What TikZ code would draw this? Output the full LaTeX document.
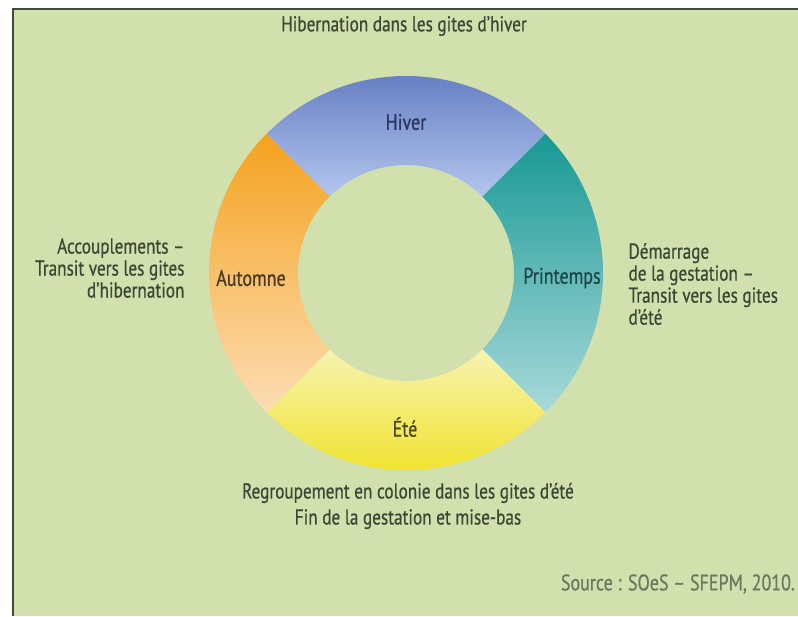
\documentclass[tikz,border=0pt]{standalone}
\usepackage{fontspec}
\setmainfont{PT Sans}[FakeStretch=0.8,FakeBold=0.6]
\usetikzlibrary{positioning}
\definecolor{bggreen}{HTML}{D2E0AE}
\definecolor{framegray}{HTML}{3F4A3A}
\definecolor{txtgray}{HTML}{3C4634}
\definecolor{srcgray}{HTML}{6B7860}
\definecolor{hivT}{HTML}{5B75BE}
\definecolor{hivB}{HTML}{B4C6EE}
\definecolor{priT}{HTML}{179894}
\definecolor{priB}{HTML}{A9D9DA}
\definecolor{eteT}{HTML}{F7F3B0}
\definecolor{eteB}{HTML}{F0E11C}
\definecolor{autT}{HTML}{F4A21E}
\definecolor{autB}{HTML}{FDDDB5}
\definecolor{hivL}{HTML}{2A3560}
\definecolor{autL}{HTML}{4A3820}
\definecolor{priL}{HTML}{1D4646}
\definecolor{eteL}{HTML}{4A4614}
\begin{document}
\begin{tikzpicture}[x=1pt,y=1pt,
  txt/.style={text=txtgray,font=\fontsize{21.5}{22}\selectfont},
  seaslab/.style={font=\fontsize{22.5}{22}\selectfont}]
  \useasboundingbox (0,0) rectangle (798,616);
  \fill[bggreen] (13,0) rectangle (798,607);
  \draw[framegray,line width=2.5pt] (13,0) -- (13,607) -- (798,607);
  \coordinate (c) at (406,343);
  % ring, one quarter per season
  \foreach \a/\tc/\bc in {45/hivT/hivB, -45/priT/priB, -135/eteT/eteB, 135/autT/autB}{
    \shade[shift={(c)},top color=\tc,bottom color=\bc] (\a:197) arc[start angle=\a, delta angle=90, radius=197]
      -- ({\a+90}:108) arc[start angle=\a+90, delta angle=-90, radius=108] -- cycle;
  }
  \node[seaslab,text=hivL] (hiver) at (406,494) {Hiver};
  \node[seaslab,text=autL] (automne) at (251,338) {Automne};
  \node[seaslab,text=priL] (printemps) at (562,338) {Printemps};
  \node[seaslab,text=eteL] (ete) at (405,189) {Été};
  \node[txt] (hivtxt) at (404,590) {Hibernation dans les gites d'hiver};
  \node[txt,align=right,anchor=east] (auttxt) at (188,348) {Accouplements --\\Transit vers les gites\\d'hibernation};
  \node[txt,align=left,anchor=west] (pritxt) at (625,332) {Démarrage\\de la gestation --\\Transit vers les gites\\d'été};
  \node[txt,align=center] (etetxt) at (408,110) {Regroupement en colonie dans les gites d'été\\[4pt]Fin de la gestation et mise-bas};
  \node[txt,text=srcgray,font=\fontsize{22.5}{24}\selectfont,anchor=east,inner sep=1pt] (source) at (796,32) {Source : SOeS -- SFEPM, 2010.};
\end{tikzpicture}
\end{document}
